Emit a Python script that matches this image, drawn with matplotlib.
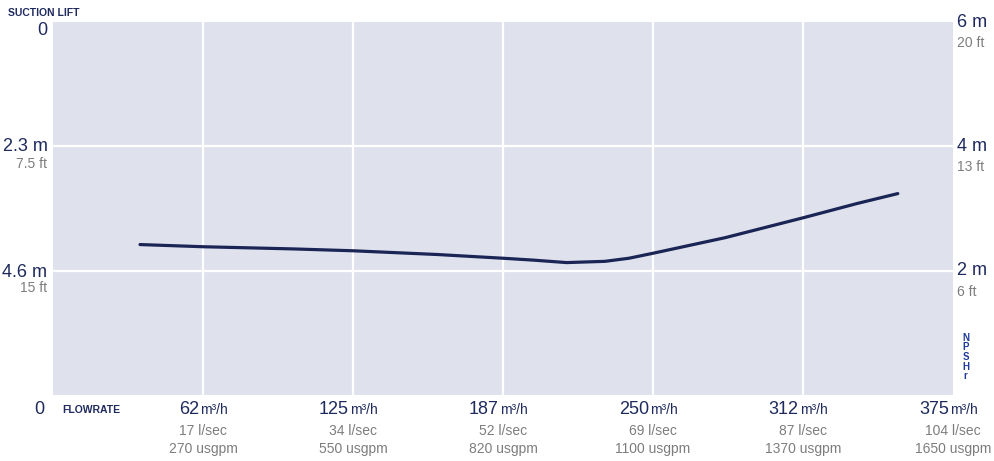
import numpy as np
import matplotlib
matplotlib.use('Agg')
import matplotlib.pyplot as plt

plt.rcParams['font.family'] = ['Liberation Sans Narrow', 'Liberation Sans', 'DejaVu Sans']

# NPSHr curve (flow in m3/h, NPSHr in m)
flow = [36.25, 62.5, 100, 125, 160, 187.5, 200, 214, 230, 240, 250, 280, 312.5, 335, 352]
npshr = [2.42, 2.385, 2.35, 2.32, 2.26, 2.20, 2.17, 2.13, 2.15, 2.20, 2.28, 2.53, 2.85, 3.08, 3.24]

# axis labels
flow_ticks = [62.5, 125, 187.5, 250, 312.5, 375]
flow_m3h = ['62', '125', '187', '250', '312', '375']
flow_ls = ['17 l/sec', '34 l/sec', '52 l/sec', '69 l/sec', '87 l/sec', '104 l/sec']
flow_gpm = ['270 usgpm', '550 usgpm', '820 usgpm', '1100 usgpm', '1370 usgpm', '1650 usgpm']
lift_m = ['0', '2.3', '4.6']
lift_ft = ['', '7.5 ft', '15 ft']
npsh_m = ['6', '4', '2']
npsh_ft = ['20 ft', '13 ft', '6 ft']

navy = '#1e2a5e'
grey = '#7d7d7d'

fig = plt.figure(figsize=(9.94, 4.61), dpi=100)
ax = fig.add_axes([53/994, 66/461, 900/994, 373/461])
ax.set_facecolor('#dfe2ed')
ax.set_xlim(0, 375)
ax.set_ylim(0, 6)
for s in ax.spines.values():
    s.set_visible(False)
ax.set_xticks(flow_ticks[:-1])
ax.set_yticks([2, 4])
ax.tick_params(length=0, labelleft=False, labelbottom=False)
ax.grid(True, color='white', linewidth=1.6)

ax.plot(flow, npshr, color='#1b2555', linewidth=2.3, solid_capstyle='round',
        solid_joinstyle='round', zorder=3)

xt = ax.get_xaxis_transform()
yt = ax.get_yaxis_transform()

# bottom labels
for x, a, b, c in zip(flow_ticks, flow_m3h, flow_ls, flow_gpm):
    ax.annotate(a, (x, 0), xycoords=xt, xytext=(-3, -4), textcoords='offset points',
                ha='right', va='top', fontsize=13, color=navy)
    ax.annotate('m³/h', (x, 0), xycoords=xt, xytext=(-2, -6), textcoords='offset points',
                ha='left', va='top', fontsize=10, color=navy)
    ax.annotate(b, (x, 0), xycoords=xt, xytext=(0, -21), textcoords='offset points',
                ha='center', va='top', fontsize=10, color=grey)
    ax.annotate(c, (x, 0), xycoords=xt, xytext=(0, -34), textcoords='offset points',
                ha='center', va='top', fontsize=10, color=grey)

ax.annotate('0', (0, 0), xycoords='axes fraction', xytext=(-6, -4), textcoords='offset points',
            ha='right', va='top', fontsize=13, color=navy)
ax.annotate('FLOWRATE', (0, 0), xycoords='axes fraction', xytext=(7, -7), textcoords='offset points',
            ha='left', va='top', fontsize=7.5, fontweight='bold', color=navy)

# left axis: suction lift
lift_pos = [6, 4, 2]
lift_dy = [-6, 0, -1]
for y, a, b, dy in zip(lift_pos, lift_m, lift_ft, lift_dy):
    txt = a if a == '0' else a + ' m'
    ax.annotate(txt, (0, y), xycoords=yt, xytext=(-4, dy), textcoords='offset points',
                ha='right', va='center', fontsize=13, color=navy)
    if b:
        ax.annotate(b, (0, y), xycoords=yt, xytext=(-4, -12.5), textcoords='offset points',
                    ha='right', va='center', fontsize=10, color=grey)
fig.text(8/994, 1 - 13/461, 'SUCTION LIFT', ha='left', va='center',
         fontsize=7.5, fontweight='bold', color=navy)

# right axis: NPSHr
for y, a, b in zip(lift_pos, npsh_m, npsh_ft):
    ax.annotate(a + ' m', (1, y), xycoords=yt, xytext=(3, 0), textcoords='offset points',
                ha='left', va='center', fontsize=13, color=navy)
    ax.annotate(b, (1, y), xycoords=yt, xytext=(3, -15), textcoords='offset points',
                ha='left', va='center', fontsize=10, color=grey)
ax.annotate('N\nP\nS\nH\nr', (1, 0), xycoords='axes fraction', xytext=(9, 10), textcoords='offset points',
            ha='center', va='bottom', fontsize=7, fontweight='bold', color='#1f3a9a', linespacing=0.95)

fig.savefig('out.png', dpi=100)
